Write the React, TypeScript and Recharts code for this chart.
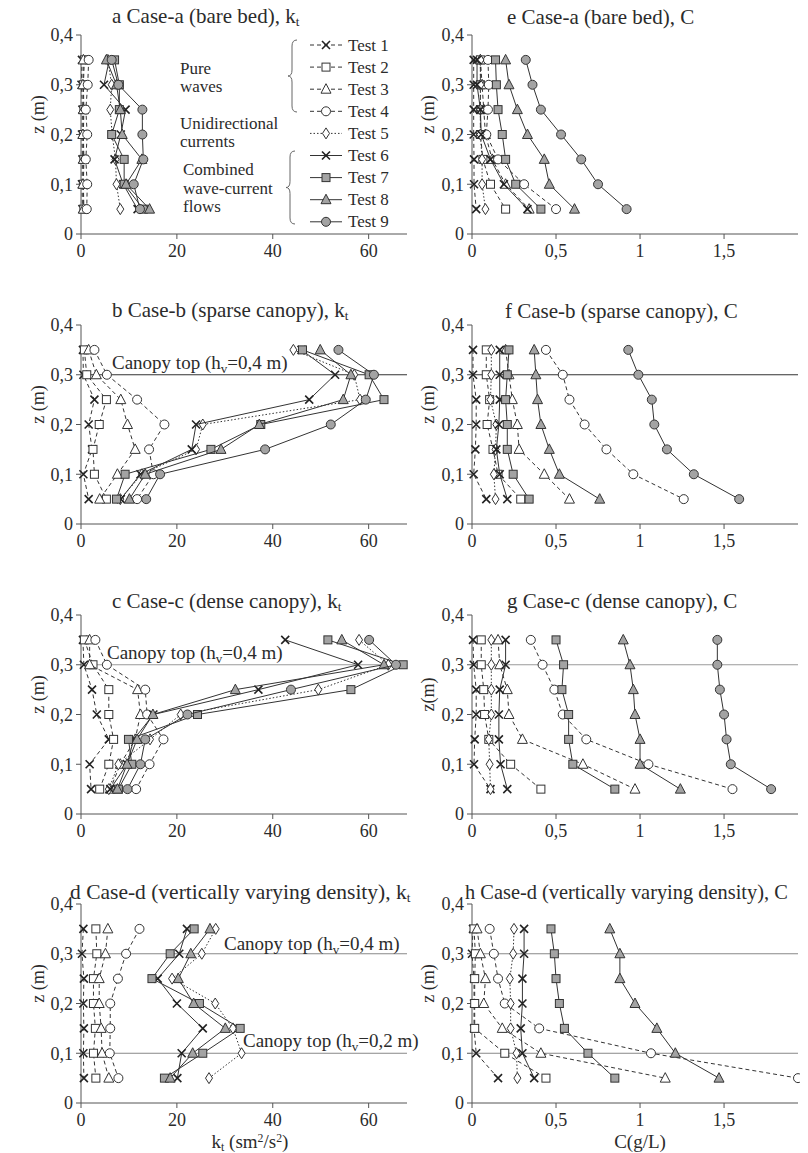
import React from "react";
import { ScatterChart, Scatter, XAxis, YAxis, ReferenceLine, Legend } from "recharts";

const Z_LEVELS = [0.35, 0.3, 0.25, 0.2, 0.15, 0.1, 0.05];
const Z_TICKS = [0, 0.1, 0.2, 0.3, 0.4];
const KT_TICKS = [0, 20, 40, 60];
const C_TICKS = [0, 0.5, 1, 1.5];
const TEST_NAMES = ["Test 1", "Test 2", "Test 3", "Test 4", "Test 5", "Test 6", "Test 7", "Test 8", "Test 9"];

// k_t, one row per test, values at Z_LEVELS (top to bottom)
const ktCaseA = [
  [0.2, 0.1, 0.3, 0.2, 0.3, 0.2, 0.3],
  [0.7, 0.5, 0.6, 0.5, 0.6, 0.5, 0.6],
  [0.5, 0.4, 0.5, 0.4, 0.5, 0.4, 0.5],
  [1.6, 1.4, 1.0, 1.3, 1.0, 1.3, 1.2],
  [5.6, 6.4, 6.1, 6.5, 7.2, 7.4, 8.2],
  [5.9, 4.8, 9.3, 8.3, 7.0, 8.8, 11.8],
  [7.0, 8.0, 8.0, 6.4, 9.0, 9.0, 13.0],
  [5.3, 7.4, 8.2, 8.6, 12.7, 9.4, 14.3],
  [6.4, 7.8, 12.8, 12.8, 13.0, 11.0, 12.3],
];
const ktCaseB = [
  [0.4, 0.5, 2.8, 1.6, 2.3, 0.5, 1.6],
  [0.7, 1.2, 5.3, 3.8, 2.5, 2.8, 5.3],
  [1.6, 3.2, 8.3, 9.7, 11.3, 7.6, 3.9],
  [2.8, 5.4, 11.7, 17.4, 14.2, 15.1, 11.7],
  [44.3, 57.0, 58.2, 25.4, 24.0, 12.7, 8.2],
  [46.0, 53.0, 47.6, 24.0, 23.1, 12.4, 8.3],
  [46.2, 60.1, 63.2, 37.5, 27.1, 9.2, 7.4],
  [49.9, 56.3, 54.7, 37.2, 29.2, 13.4, 10.1],
  [53.7, 61.1, 59.4, 52.1, 38.4, 16.5, 13.6],
];
const ktCaseC = [
  [0.4, 0.6, 2.3, 3.3, 5.8, 1.8, 2.1],
  [0.7, 2.5, 5.8, 5.8, 6.8, 5.8, 3.9],
  [1.8, 1.8, 11.8, 12.4, 11.3, 8.2, 6.1],
  [3.0, 5.4, 13.4, 13.8, 17.2, 14.3, 11.5],
  [58.0, 64.1, 49.5, 20.8, 14.4, 7.8, 5.8],
  [42.6, 57.8, 37.0, 15.1, 11.0, 9.6, 6.1],
  [51.5, 67.2, 56.3, 24.3, 9.9, 10.6, 7.8],
  [54.4, 63.2, 32.2, 15.0, 11.7, 9.6, 7.6],
  [60.1, 65.7, 43.8, 22.2, 13.4, 12.4, 9.7],
];
const ktCaseD = [
  [0.5, 0.2, 0.6, 0.5, 0.6, 0.5, 0.6],
  [3.1, 3.3, 2.6, 2.6, 3.0, 2.6, 3.1],
  [5.6, 5.1, 3.8, 3.8, 4.2, 4.4, 5.8],
  [12.2, 9.4, 7.7, 6.1, 6.1, 6.0, 7.8],
  [28.1, 25.2, 19.0, 28.0, 31.7, 33.5, 26.7],
  [22.1, 20.5, 16.0, 20.0, 25.4, 21.0, 20.1],
  [23.6, 18.6, 14.8, 24.7, 33.2, 25.4, 17.4],
  [26.9, 22.9, 20.3, 23.5, 30.1, 23.3, 18.6],
];

// C (g/L)
const cCaseA = [
  [0.01, 0.01, 0.01, 0.01, 0.012, 0.012, 0.025],
  [0.05, 0.05, 0.05, 0.05, 0.065, 0.11, 0.2],
  [0.05, 0.06, 0.07, 0.08, 0.12, 0.2, 0.34],
  [0.095, 0.1, 0.095, 0.085, 0.155, 0.31, 0.5],
  [0.05, 0.05, 0.05, 0.05, 0.06, 0.06, 0.08],
  [0.03, 0.03, 0.05, 0.055, 0.11, 0.19, 0.33],
  [0.14, 0.145, 0.155, 0.18, 0.2, 0.26, 0.41],
  [0.2, 0.22, 0.27, 0.33, 0.43, 0.46, 0.61],
  [0.32, 0.36, 0.41, 0.53, 0.65, 0.75, 0.92],
];
const cCaseB = [
  [0.006, 0.006, 0.025, 0.025, 0.02, 0.01, 0.085],
  [0.085, 0.085, 0.105, 0.09, 0.125, 0.155, 0.29],
  [0.2, 0.22, 0.24, 0.27, 0.28, 0.43, 0.58],
  [0.44, 0.54, 0.58, 0.67, 0.8, 0.96, 1.26],
  [0.115, 0.115, 0.11, 0.145, 0.14, 0.13, 0.14],
  [0.165, 0.165, 0.165, 0.16, 0.145, 0.165, 0.21],
  [0.22, 0.21, 0.2, 0.21, 0.21, 0.245, 0.34],
  [0.37, 0.38, 0.39, 0.41, 0.46, 0.52, 0.76],
  [0.93, 0.99, 1.07, 1.085, 1.16, 1.32, 1.59],
];
const cCaseC = [
  [0.006, 0.01, 0.025, 0.025, 0.016, 0.012, 0.11],
  [0.055, 0.055, 0.07, 0.075, 0.1, 0.23, 0.41],
  [0.155, 0.165, 0.21, 0.22, 0.3, 0.66, 0.97],
  [0.35, 0.42, 0.49, 0.54, 0.68, 1.05, 1.55],
  [0.115, 0.115, 0.115, 0.115, 0.1, 0.105, 0.11],
  [0.2, 0.2, 0.165, 0.16, 0.16, 0.17, 0.21],
  [0.5, 0.545, 0.535, 0.575, 0.575, 0.6, 0.85],
  [0.9, 0.94, 0.96, 0.97, 1.0, 1.0, 1.24],
  [1.46, 1.46, 1.475, 1.5, 1.515, 1.54, 1.78],
];
const cCaseD = [
  [0.006, 0.0, 0.012, 0.012, 0.012, 0.025, 0.155],
  [0.012, 0.02, 0.016, 0.016, 0.016, 0.195, 0.44],
  [0.03, 0.05, 0.08, 0.07, 0.18, 0.41, 1.15],
  [0.105, 0.13, 0.155, 0.195, 0.4, 1.065, 1.94],
  [0.25, 0.245, 0.225, 0.23, 0.23, 0.265, 0.27],
  [0.31, 0.31, 0.3, 0.3, 0.29, 0.3, 0.37],
  [0.47, 0.49, 0.5, 0.52, 0.55, 0.69, 0.85],
  [0.82, 0.88, 0.88, 0.97, 1.1, 1.21, 1.47],
];

const FONT = '"Liberation Serif", "Times New Roman", serif';
const INK = "#2b2b2b";
const GREY = "#a3a3a3";

type Kind = "x" | "square" | "triangle" | "circle" | "diamond";
const STYLE: { kind: Kind; fill: string; dash?: string }[] = [
  { kind: "x", fill: "#fff", dash: "4 3" },
  { kind: "square", fill: "#fff", dash: "4 3" },
  { kind: "triangle", fill: "#fff", dash: "4 3" },
  { kind: "circle", fill: "#fff", dash: "4 3" },
  { kind: "diamond", fill: "#fff", dash: "1.5 2" },
  { kind: "x", fill: GREY },
  { kind: "square", fill: GREY },
  { kind: "triangle", fill: GREY },
  { kind: "circle", fill: GREY },
];

function Mark({ kind, fill, cx, cy }: { kind: Kind; fill: string; cx: number; cy: number }) {
  const st = { stroke: "#333", strokeWidth: 1, fill };
  if (kind === "x")
    return <path d={`M${cx - 4},${cy - 4}L${cx + 4},${cy + 4}M${cx - 4},${cy + 4}L${cx + 4},${cy - 4}`} stroke="#222" strokeWidth={1.6} />;
  if (kind === "square") return <rect x={cx - 4} y={cy - 4} width={8} height={8} {...st} />;
  if (kind === "triangle") return <path d={`M${cx},${cy - 5.5}L${cx + 5},${cy + 4}L${cx - 5},${cy + 4}Z`} {...st} />;
  if (kind === "circle") return <circle cx={cx} cy={cy} r={4.5} {...st} />;
  return <path d={`M${cx},${cy - 5.5}L${cx + 3.5},${cy}L${cx},${cy + 5.5}L${cx - 3.5},${cy}Z`} {...st} />;
}

const fmt = (v: number) => (v === 0 ? "0" : String(v).replace(".", ","));
const rows = (vals: number[]) => Z_LEVELS.map((h, i) => ({ h, v: vals[i] }));

const COLS = {
  kt: { left: 0, width: 425, axisW: 81, right: 18, xMax: 68, ticks: KT_TICKS, zx: 37.5 },
  c: { left: 400, width: 400, axisW: 72, right: 2, xMax: 1.94, ticks: C_TICKS, zx: 28 },
};
const PLOT_TOPS = [35, 325, 614.5, 904];
const PLOT_H = 199;

type RefDef = { y: number; color: string; tx?: number; dy?: number; hv?: string };

const canopyLabel = (r: RefDef) => (props: any) => {
  if (!r.hv) return null;
  const y = props.viewBox.y + (r.dy ?? -6);
  return (
    <text x={r.tx} y={y} fontFamily={FONT} fontSize={19} fill={INK}>
      Canopy top (h<tspan dy={4} fontSize={13}>v</tspan>
      <tspan dy={-4}>{`=${r.hv} m)`}</tspan>
    </text>
  );
};

const zLabel = (text: string, x: number) => (props: any) => {
  const vb = props.viewBox;
  const y = vb.y + vb.height / 2 - 20;
  return (
    <text x={x} y={y} transform={`rotate(-90 ${x} ${y})`} textAnchor="middle" dominantBaseline="central" fontFamily={FONT} fontSize={18} fill={INK}>
      {text}
    </text>
  );
};

function LegendBox() {
  const t = -5; // chart top offset for panel a
  const brace = (y0: number, y1: number, x: number) => {
    const m = (y0 + y1) / 2;
    return `M${x + 9},${y0} Q${x + 4},${y0} ${x + 4},${y0 + 6} L${x + 4},${m - 6} Q${x + 4},${m} ${x},${m} Q${x + 4},${m} ${x + 4},${m + 6} L${x + 4},${y1 - 6} Q${x + 4},${y1} ${x + 9},${y1}`;
  };
  const txt = { fontFamily: FONT, fontSize: 17, fill: INK, dominantBaseline: "central" } as const;
  return (
    <svg width={425} height={259} style={{ overflow: "visible", pointerEvents: "none" }}>
      <g transform={`translate(0 ${t})`}>
        <path d={brace(40, 112, 288)} fill="none" stroke="#666" strokeWidth={1} />
        <path d={brace(151, 224, 286)} fill="none" stroke="#666" strokeWidth={1} />
        <text x={180} y={68} {...txt}>Pure</text>
        <text x={180} y={86.5} {...txt}>waves</text>
        <text x={180} y={123} {...txt}>Unidirectional</text>
        <text x={180} y={141.5} {...txt}>currents</text>
        <text x={183} y={169.5} {...txt}>Combined</text>
        <text x={183} y={188} {...txt}>wave-current</text>
        <text x={183} y={206.5} {...txt}>flows</text>
        {TEST_NAMES.map((name, i) => {
          const y = 45 + i * 22.1;
          const s = STYLE[i];
          return (
            <g key={name}>
              <line x1={310} x2={342} y1={y} y2={y} stroke="#333" strokeWidth={1} strokeDasharray={s.dash} />
              <Mark kind={s.kind} fill={s.fill} cx={326} cy={y} />
              <text x={348} y={y} dominantBaseline="central" fontFamily={FONT} fontSize={17} fill={INK}>{name}</text>
            </g>
          );
        })}
      </g>
    </svg>
  );
}

function Panel({ col, row, series, refs, zText, legend }: { col: "kt" | "c"; row: number; series: number[][]; refs: RefDef[]; zText: string; legend?: boolean }) {
  const c = COLS[col];
  const top = PLOT_TOPS[row] - 30;
  const tickStyle = { fill: INK, fontSize: 18, fontFamily: FONT };
  return (
    <div style={{ position: "absolute", left: c.left, top }}>
      <ScatterChart width={c.width} height={30 + PLOT_H + 30} margin={{ top: 30, right: c.right, bottom: 0, left: 0 }}>
        <XAxis type="number" dataKey="v" domain={[0, c.xMax]} ticks={c.ticks} interval={0} tickFormatter={fmt} height={30}
          tick={tickStyle} tickSize={5} tickMargin={5} stroke="#555" />
        <YAxis type="number" dataKey="h" domain={[0, 0.4]} ticks={Z_TICKS} interval={0} tickFormatter={fmt} width={c.axisW}
          tick={tickStyle} tickSize={5} tickMargin={3} stroke="#555" label={zLabel(zText, c.zx)} />
        {refs.map((r) => (
          <ReferenceLine key={r.y} y={r.y} stroke={r.color} strokeWidth={1} label={canopyLabel(r)} />
        ))}
        {series.map((vals, i) => (
          <Scatter key={i} name={TEST_NAMES[i]} data={rows(vals)} isAnimationActive={false}
            line={{ stroke: "#333", strokeWidth: 1, strokeDasharray: STYLE[i].dash }}
            shape={(p: any) => <Mark kind={STYLE[i].kind} fill={STYLE[i].fill} cx={p.cx} cy={p.cy} />} />
        ))}
        {legend && (
          <Legend verticalAlign="middle" align="center" layout="horizontal"
            wrapperStyle={{ left: 0, top: 0, width: 425, height: 259, pointerEvents: "none" }} content={() => <LegendBox />} />
        )}
      </ScatterChart>
    </div>
  );
}

const TITLES = [
  { left: 112, y: 15.7, size: 21, main: "a Case-a (bare bed), k", sub: "t" },
  { left: 112, y: 310, size: 21, main: "b Case-b (sparse canopy), k", sub: "t" },
  { left: 112, y: 600.7, size: 21, main: "c Case-c (dense canopy), k", sub: "t" },
  { left: 70, y: 892, size: 21.5, main: "d Case-d (vertically varying density), k", sub: "t" },
  { left: 507, y: 16.7, size: 21, main: "e Case-a (bare bed), C" },
  { left: 505, y: 310.7, size: 21, main: "f Case-b (sparse canopy), C" },
  { left: 507, y: 600.7, size: 21, main: "g Case-c (dense canopy), C" },
  { left: 465, y: 892, size: 20.4, main: "h Case-d (vertically varying density), C" },
];

export default function App() {
  const abs = (left: number, y: number, size: number, lh = 24): React.CSSProperties => ({
    position: "absolute", left, top: y - lh / 2, lineHeight: `${lh}px`, fontSize: size, fontFamily: FONT, color: INK, whiteSpace: "nowrap",
  });
  const subSt: React.CSSProperties = { fontSize: "0.62em", verticalAlign: "-0.25em", lineHeight: 0 };
  const supSt: React.CSSProperties = { fontSize: "0.62em", verticalAlign: "0.5em", lineHeight: 0 };
  return (
    <div style={{ position: "absolute", left: 0, top: 0, width: 808, height: 1153, background: "#fff", fontFamily: FONT, overflow: "hidden" }}>
      <Panel col="kt" row={0} series={ktCaseA} refs={[]} zText="z (m)" legend />
      <Panel col="kt" row={1} series={ktCaseB} refs={[{ y: 0.3, color: "#333", tx: 112, dy: -6, hv: "0,4" }]} zText="z (m)" />
      <Panel col="kt" row={2} series={ktCaseC} refs={[{ y: 0.3, color: "#9a9a9a", tx: 107, dy: -6, hv: "0,4" }]} zText="z (m)" />
      <Panel col="kt" row={3} series={ktCaseD}
        refs={[{ y: 0.3, color: "#888", tx: 224, dy: -4, hv: "0,4" }, { y: 0.1, color: "#888", tx: 243, dy: -6.5, hv: "0,2" }]} zText="z (m)" />
      <Panel col="c" row={0} series={cCaseA} refs={[]} zText="z (m)" />
      <Panel col="c" row={1} series={cCaseB} refs={[{ y: 0.3, color: "#333" }]} zText="z (m)" />
      <Panel col="c" row={2} series={cCaseC} refs={[{ y: 0.3, color: "#9a9a9a" }]} zText="z(m)" />
      <Panel col="c" row={3} series={cCaseD} refs={[{ y: 0.3, color: "#888" }, { y: 0.1, color: "#888" }]} zText="z (m)" />
      {TITLES.map((t) => (
        <div key={t.main} style={abs(t.left, t.y, t.size)}>
          {t.main}
          {t.sub && <span style={subSt}>{t.sub}</span>}
        </div>
      ))}
      <div style={{ ...abs(0, 1142, 19, 18), width: 500, textAlign: "center" }}>
        k<span style={subSt}>t</span> (sm<span style={supSt}>2</span>/s<span style={supSt}>2</span>)
      </div>
      <div style={{ ...abs(390, 1142, 19, 18), width: 500, textAlign: "center" }}>C(g/L)</div>
    </div>
  );
}
